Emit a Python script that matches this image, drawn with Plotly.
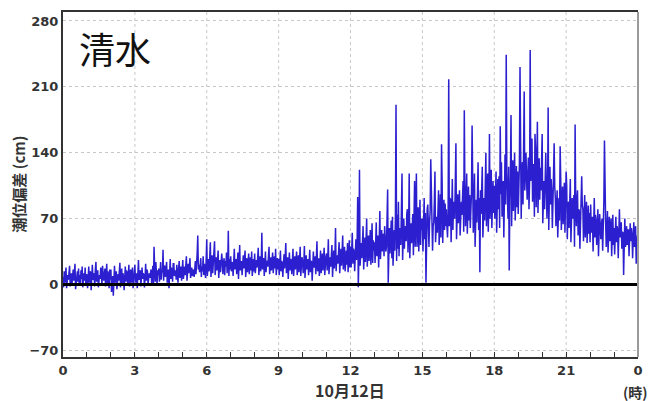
import plotly.graph_objects as go

# Tide deviation (cm), 1.5-minute samples, one row per hour, 10/12 00:00 -> 24:00
h00 = [8, -3, 14, 2, 11, 18, -4, 6, 10, 5, 16, 20, -2, 7, 12, 0, 9, 16, 4, 13,
       22, -5, 3, 9, 14, 3, 17, 1, 10, -1, 15, 6, 19, -3, 8, 12, 4, 18, 0, 11]
h01 = [11, -4, 7, 19, 2, 14, 13, -6, 9, 21, 5, 12, 8, -2, 16, 24, 3, 10, 15, -3,
       6, 10, 6, 18, 13, -1, 20, 12, 4, 9, 17, -2, 11, 22, 1, 14, 7, -4, 16, 5]
h02 = [16, -8, 3, 9, -12, 6, 20, 2, 13, 14, -5, 8, 11, 4, 18, 23, -3, 9, 17, 1,
       12, 9, -6, 5, 19, 3, 15, 13, 0, 10, 21, -2, 7, 16, 2, 12, 18, -4, 9, 14]
h03 = [21, 2, 10, 12, -4, 8, 26, 5, 15, 15, -2, 9, 18, 6, 12, 10, -3, 7, 22, 4,
       16, 14, 0, 11, 12, 7, 13, 16, 1, 9, 20, -1, 40, 18, 3, 24, 8, 0, 15, 10]
h04 = [17, 3, 11, 24, 5, 14, 13, 37, 4, 19, 20, 8, 15, 24, 2, 11, 16, -4, 9, 27,
       6, 18, 12, 3, 22, 22, 9, 14, 15, 5, 21, 10, 2, 17, 25, 7, 13, 19, 4, 16]
h05 = [26, 6, 15, 19, 10, 22, 30, 4, 17, 22, 12, 18, 28, 7, 14, 18, 9, 16, 16, 8,
       20, 25, 11, 19, 33, 52, 16, 21, 13, 24, 28, 8, 19, 14, 30, 10, 22, 17, 7, 26]
h06 = [48, 9, 20, 27, 14, 24, 45, 8, 18, 31, 12, 22, 24, 46, 10, 19, 29, 15, 26, 36,
       7, 20, 26, 13, 30, 33, 24, 11, 23, 28, 10, 25, 19, 34, 12, 21, 57, 9, 27, 16]
h07 = [30, 14, 22, 24, 9, 19, 38, 16, 26, 27, 11, 21, 34, 6, 18, 42, 15, 25, 25, 10,
       20, 31, 17, 28, 36, 8, 22, 28, 13, 24, 33, 11, 19, 29, 15, 35, 9, 23, 27, 14]
h08 = [33, 12, 22, 26, 18, 30, 39, 10, 21, 30, 14, 24, 55, 16, 27, 28, 9, 20, 35, 13,
       25, 24, 19, 31, 40, 11, 23, 29, 15, 26, 34, 12, 21, 30, 17, 38, 10, 25, 28, 16]
h09 = [27, 10, 19, 36, 14, 25, 23, 8, 18, 32, 17, 26, 44, 12, 22, 29, 6, 18, 34, 15,
       27, 26, 11, 20, 38, 9, 24, 30, 16, 28, 35, 10, 22, 31, 13, 27, 40, 9, 21, 29]
h10 = [25, 12, 20, 41, 7, 22, 31, 16, 26, 27, 10, 21, 37, 13, 25, 24, 4, 17, 35, 18,
       29, 30, 11, 23, 46, 14, 26, 28, 9, 21, 36, 12, 24, 33, 15, 27, 39, 10, 25, 30]
h11 = [33, 15, 26, 48, 11, 24, 29, 19, 35, 42, 8, 22, 36, 17, 30, 60, 14, 28, 31, 22,
       38, 45, 12, 27, 38, 20, 33, 52, 16, 29, 40, 14, 31, 36, 21, 44, 13, 30, 47, 18]
h12 = [40, 18, 32, 55, 22, 38, 35, 14, 29, 48, 26, 41, 93, -3, 30, 122, 20, 36, 44, 28,
       46, 62, 16, 35, 50, 24, 42, 70, 19, 38, 52, 25, 44, 58, 21, 40, 65, 23, 47, 36]
h13 = [45, 23, 38, 66, 30, 50, 52, 18, 40, 78, 27, 49, 58, 35, 54, 48, 30, 62, 40, 35,
       40, 62, 101, 2, 48, 60, 33, 52, 68, 28, 72, 20, 44, 58, 36, 70, 191, 25, 74, 38]
h14 = [88, 30, 52, 60, 42, 66, 118, 26, 50, 70, 38, 62, 55, 46, 75, 80, 34, 58, 118, 28,
       52, 65, 44, 72, 75, 31, 56, 110, 40, 68, 118, 40, 60, 82, 35, 64, 90, 42, 70, 58]
h15 = [70, 35, 58, 92, 48, 76, 2, 60, 80, 85, 70, 40, 66, 78, 133, 88, 95, 36, 62, 66,
       88, 120, 45, 72, 72, 55, 82, 100, 42, 70, 96, 50, 149, 108, 44, 74, 90, 58, 86, 62]
h16 = [80, 62, 50, 76, 218, 62, 92, 90, 45, 70, 112, 58, 88, 84, 70, 102, 150, 48, 75, 96,
       65, 94, 100, 52, 80, 88, 74, 106, 110, 56, 185, 98, 62, 90, 118, 54, 82, 104, 68, 95]
h17 = [60, 72, 98, 169, 95, 55, 84, 118, 40, 70, 90, 66, 104, 130, 58, 92, 13, 100, 75, 112,
       125, 50, 86, 92, 68, 108, 140, 62, 96, 118, 56, 88, 160, 70, 102, 122, 60, 94, 110, 76]
h18 = [105, 70, 98, 120, 55, 92, 112, 80, 115, 60, 168, 96, 130, 72, 104, 110, 50, 88, 138, 85,
       244, 118, 100, 70, 125, 15, 90, 116, 180, 62, 102, 132, 78, 110, 140, 68, 100, 126, 82, 120]
h19 = [75, 95, 128, 231, 160, 70, 112, 130, 85, 122, 205, 100, 135, 140, 110, 90, 118, 135, 80, 110,
       249, 110, 138, 155, 88, 120, 128, 72, 160, 142, 82, 116, 173, 76, 108, 134, 90, 124, 100, 132]
h20 = [160, 65, 98, 110, 80, 118, 140, 102, 70, 96, 188, 58, 92, 125, 85, 112, 98, 60, 88, 115,
       150, 104, 92, 62, 90, 100, 50, 82, 92, 68, 147, 112, 58, 86, 104, 64, 94, 108, 55, 88]
h21 = [120, 105, 48, 80, 88, 60, 96, 112, 45, 78, 92, 70, 92, 95, 40, 170, 85, 62, 90, 100,
       52, 80, 78, 38, 66, 90, 115, 84, 80, 46, 72, 95, 50, 78, 88, 44, 70, 84, 54, 76]
h22 = [45, 85, 55, 68, 72, 35, 62, 92, 50, 74, 68, 42, 66, 80, 30, 58, 75, 62, 48, 64,
       70, 36, 60, 88, 153, 70, 65, 40, 62, 78, 34, 56, 72, 46, 64, 70, 30, 58, 74, 42]
h23 = [60, 32, 52, 72, 45, 62, 58, 28, 50, 80, 50, 64, 66, 38, 56, 55, 10, 48, 70, 40,
       44, 62, 42, 58, 58, 30, 50, 65, 46, 60, 54, 28, 48, 66, 40, 56, 62, 22, 46, 52]
h24 = [40]

hours = [h00, h01, h02, h03, h04, h05, h06, h07, h08, h09, h10, h11,
         h12, h13, h14, h15, h16, h17, h18, h19, h20, h21, h22, h23, h24]

deviation = [v for row in hours for v in row]
step_minutes = 1.5
times = [i * step_minutes / 60 for i in range(len(deviation))]

x_tick_vals = list(range(0, 25))
x_tick_text = ["0", "", "", "3", "", "", "6", "", "", "9", "", "", "12", "", "", "15",
               "", "", "18", "", "", "21", "", "", "0"]
y_tick_vals = [-70, 0, 70, 140, 210, 280]

station = "清水"
date_label = "10月12日"
unit_label = "(時)"
y_title = "潮位偏差 (cm)"

fig = go.Figure()
fig.add_trace(go.Scatter(x=times, y=deviation, mode="lines",
                         line=dict(color="#2b1fcf", width=1.5), hoverinfo="skip"))

fig.add_shape(type="line", xref="paper", yref="y", x0=0, x1=1, y0=0, y1=0,
              line=dict(color="black", width=3), layer="above")
# right frame edge (grey)
fig.add_shape(type="line", xref="paper", yref="paper", x0=1, x1=1, y0=0, y1=1,
              line=dict(color="#9a9a9a", width=2), layer="above")

tick_font = dict(family="DejaVu Sans", size=13, color="#333333", weight="bold")

# page body has an 8px default margin; the figure is sized to fit the window
fig.update_layout(
    width=647, height=393,
    margin=dict(l=55, r=17, t=2, b=44),
    paper_bgcolor="white", plot_bgcolor="white",
    showlegend=False,
    xaxis=dict(range=[0, 24], tickvals=x_tick_vals, ticktext=x_tick_text,
               ticks="inside", ticklen=5, tickcolor="#333", tickwidth=1,
               showgrid=False, zeroline=False,
               showline=True, linecolor="#333", linewidth=2, mirror=True,
               tickfont=tick_font),
    yaxis=dict(range=[-77, 289.5], tickvals=y_tick_vals, ticks="",
               showgrid=True, gridcolor="#c8c8c8", griddash="dot", gridwidth=1,
               zeroline=False,
               showline=True, linecolor="#333", linewidth=2, mirror=False,
               tickfont=tick_font),
)

# vertical dotted grid at major ticks
for xv in [3, 6, 9, 12, 15, 18, 21]:
    fig.add_shape(type="line", xref="x", yref="paper", x0=xv, x1=xv, y0=0, y1=1,
                  line=dict(color="#c8c8c8", width=1, dash="dot"), layer="below")

fig.add_annotation(text=station, xref="paper", yref="paper", x=0.024, y=0.897,
                   xanchor="left", yanchor="middle", showarrow=False,
                   font=dict(family="Noto Sans CJK JP", size=36, color="#111"))
fig.add_annotation(text=f"<b>{date_label}</b>", xref="paper", yref="paper",
                   x=0.499, y=-0.095, xanchor="center", yanchor="middle", showarrow=False,
                   font=dict(family="Noto Sans CJK JP", size=16, color="#333"))
fig.add_annotation(text=f"<b>{unit_label}</b>", xref="paper", yref="paper",
                   x=0.995, y=-0.10, xanchor="center", yanchor="middle", showarrow=False,
                   font=dict(family="Noto Sans CJK JP", size=14, color="#333"))
fig.add_annotation(text=f"<b>{y_title}</b>", xref="paper", yref="paper",
                   x=-0.078, y=0.50, xanchor="center", yanchor="middle", showarrow=False,
                   textangle=-90,
                   font=dict(family="Noto Sans CJK JP", size=15, color="#333"))

fig.write_html("out.html")
